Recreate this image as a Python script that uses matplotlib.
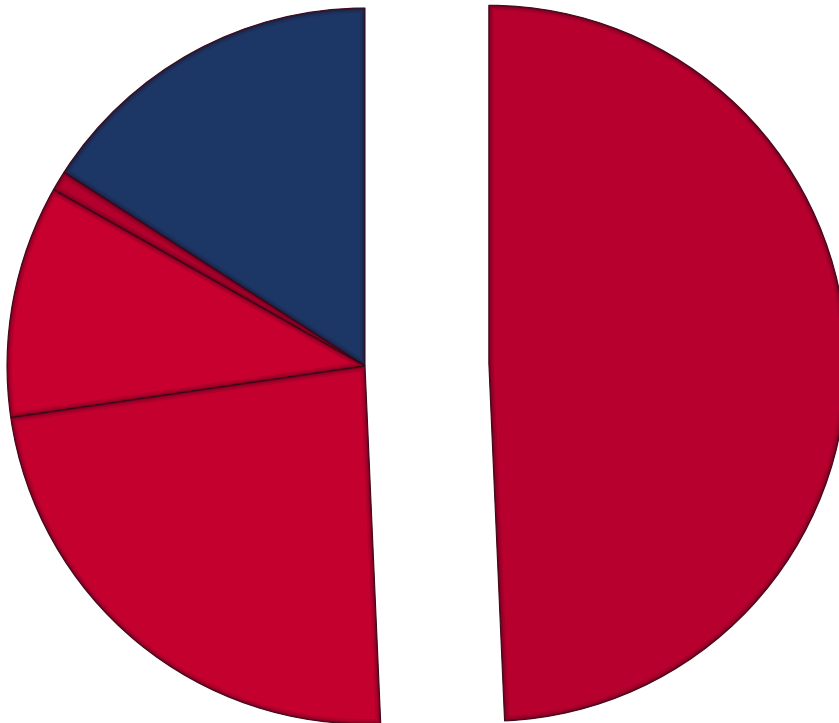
import matplotlib
matplotlib.use("Agg")
import matplotlib.pyplot as plt
from matplotlib.patches import Wedge

labels = ["A", "B", "C", "D", "E"]
values = [15.9, 0.9, 10.5, 23.4, 49.3]
colors = ["#1c3766", "#b3002d", "#c8002f", "#c4002f", "#b8002e"]
explode = [0, 0, 0, 0, 0.346]

fig = plt.figure(figsize=(8.39, 7.23), dpi=100)
ax = fig.add_axes([0, 0, 1, 1])
r_px = 358.0
cx, cy = 365.0, 366.0
wedges, _ = ax.pie(values, colors=colors, explode=explode, startangle=90, counterclock=True,
                   radius=1.0, wedgeprops=dict(edgecolor="#4a1020", linewidth=0.8))
# soft inner bevel shading
for w in wedges:
    for lw, a in [(7, 0.12), (4, 0.15), (2, 0.2)]:
        s = Wedge(w.center, w.r, w.theta1, w.theta2, facecolor="none",
                  edgecolor="#200010", linewidth=lw, alpha=a)
        ax.add_patch(s)
        s.set_clip_path(w)
ax.set_aspect("auto")
ax.set_xlim(-cx / r_px, (839 - cx) / r_px)
ax.set_ylim(-(723 - cy) / r_px, cy / r_px)
ax.axis("off")
fig.savefig("out.png", dpi=100)
